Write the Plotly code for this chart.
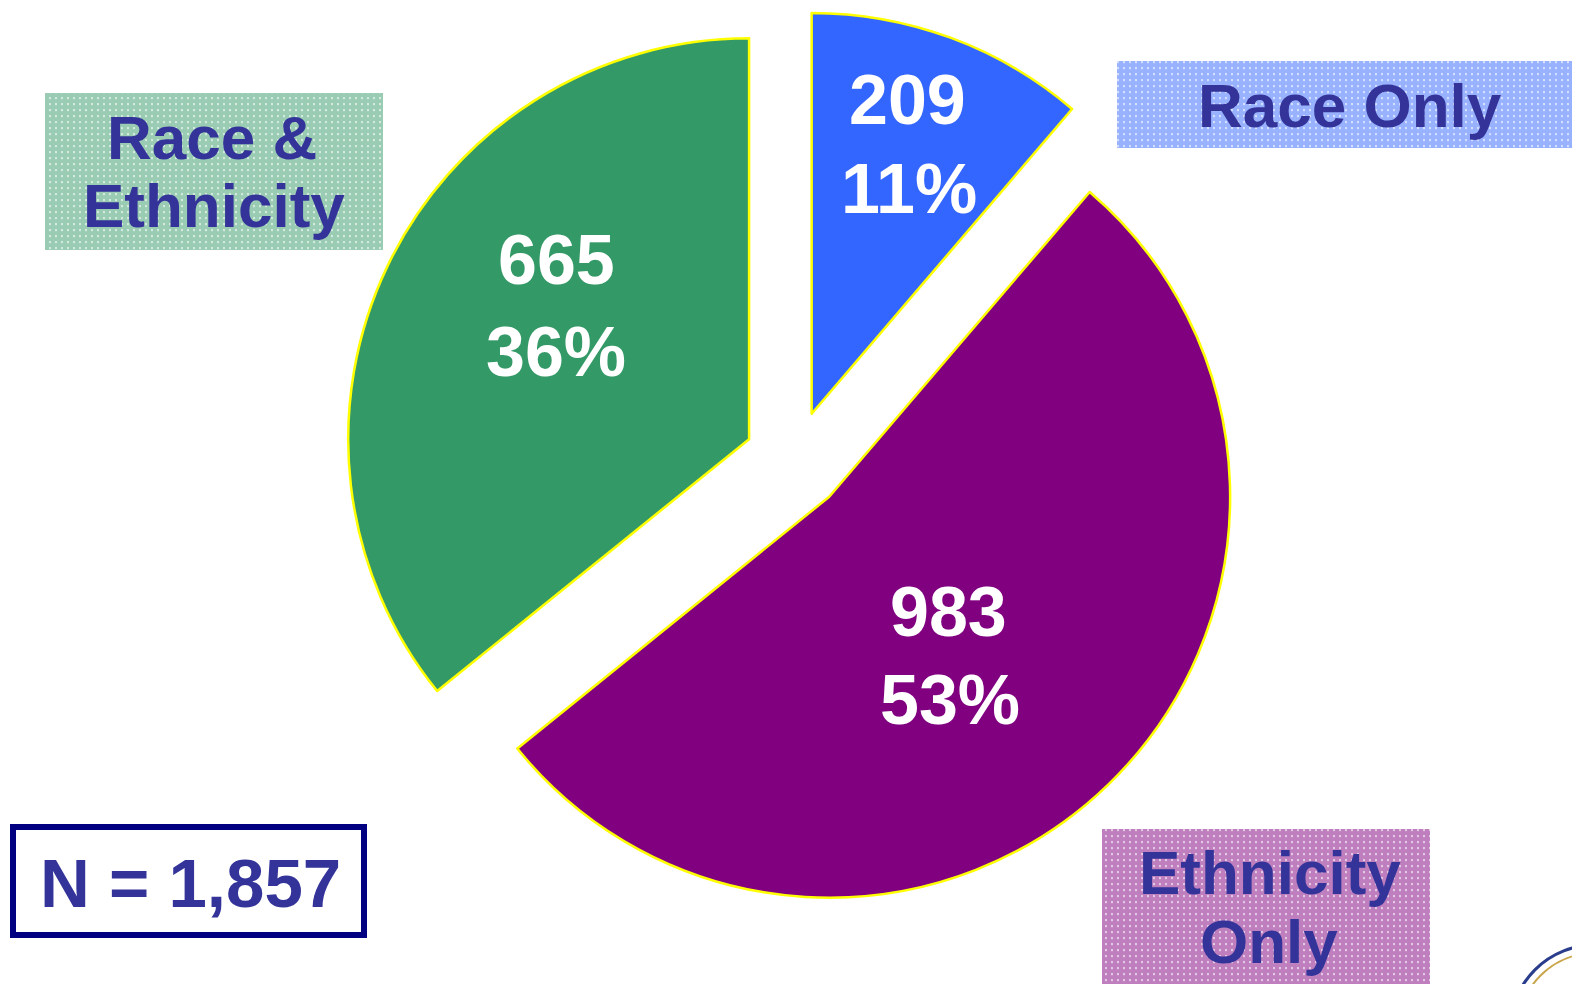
import plotly.graph_objects as go

# ---- data ----
categories = ["Race Only", "Ethnicity Only", "Race & Ethnicity"]
counts = [209, 983, 665]
slice_colors = ["#3366FF", "#800080", "#339966"]
total_label = "N = 1,857"

total = sum(counts)
percents = [round(c / total * 100) for c in counts]

# page is 1580x984; html body has an 8px margin, so the figure covers 8..1580 / 8..984
OFF = 8
W, H = 1580 - OFF, 984 - OFF
TEXT_BLUE = "#333399"
FONT = "Arial, Liberation Sans, sans-serif"


def fx(px):
    return (px - OFF) / W


def fy(py):
    return 1 - (py - OFF) / H


fig = go.Figure()

# pie (exploded): unexploded centre ~(794, 461), radius ~401, pull 0.125
PCX, PCY, HALF = 794.3, 460.8, 451.0
fig.add_trace(go.Pie(
    labels=categories,
    values=counts,
    sort=False,
    direction="clockwise",
    rotation=0,
    pull=[0.125, 0.125, 0.125],
    marker=dict(colors=slice_colors, line=dict(color="#FFFF00", width=2.5)),
    textinfo="none",
    hoverinfo="label+value+percent",
    showlegend=False,
    domain=dict(x=[fx(PCX - HALF), fx(PCX + HALF)], y=[fy(PCY + HALF), fy(PCY - HALF)]),
))

# patterned label boxes (window pixel coordinates on hidden axes)
boxes = [
    # (x0, x1, y0, y1, color)
    (45, 383, 93, 250, "#339966"),
    (1117, 1580, 61, 148, "#3366FF"),
    (1102, 1430, 829, 984, "#800080"),
]
for x0, x1, y0, y1, col in boxes:
    fig.add_trace(go.Scatter(
        x=[x0, x1, x1, x0, x0], y=[y0, y0, y1, y1, y0],
        mode="lines", fill="toself", line=dict(width=0),
        fillcolor="white",
        fillpattern=dict(shape=".", fgcolor=col, bgcolor="white", size=6, solidity=0.85),
        hoverinfo="skip", showlegend=False,
    ))

annotations = []


def add_text(x, y, txt, size, color):
    annotations.append(dict(
        x=x, y=y, xref="x", yref="y", text=f"<b>{txt}</b>", showarrow=False,
        xanchor="center", yanchor="middle",
        font=dict(family=FONT, size=size, color=color),
    ))


# box labels
add_text(212, 137, "Race &amp;", 62, TEXT_BLUE)
add_text(214, 205, "Ethnicity", 62, TEXT_BLUE)
add_text(1350, 105, "Race Only", 62, TEXT_BLUE)
add_text(1270, 872, "Ethnicity", 62, TEXT_BLUE)
add_text(1269, 941, "Only", 62, TEXT_BLUE)

# slice value labels
label_pos = {
    "Race Only": ((907, 100), (909, 189)),
    "Ethnicity Only": ((948, 612), (950, 700)),
    "Race & Ethnicity": ((556, 260), (556, 352)),
}
for cat, c, p in zip(categories, counts, percents):
    (xa, ya), (xb, yb) = label_pos[cat]
    add_text(xa, ya, f"{c}", 70, "white")
    add_text(xb, yb, f"{p}%", 70, "white")

# N box
add_text(190, 883, total_label, 69, TEXT_BLUE)

shapes = [
    dict(type="rect", xref="x", yref="y", x0=13, x1=364, y0=827, y1=935,
         line=dict(color="#000080", width=6), fillcolor="white", layer="below"),
    # partial seal at the corner
    dict(type="circle", xref="x", yref="y", x0=1510, x1=1680, y0=945, y1=1115,
         line=dict(color="#2a3c8c", width=3), fillcolor="white"),
    dict(type="circle", xref="x", yref="y", x0=1518, x1=1672, y0=953, y1=1107,
         line=dict(color="#c9a54a", width=2), fillcolor="rgba(0,0,0,0)"),
]

fig.update_layout(
    width=W, height=H,
    margin=dict(l=0, r=0, t=0, b=0),
    paper_bgcolor="white", plot_bgcolor="white",
    xaxis=dict(range=[OFF, 1580], visible=False, fixedrange=True, domain=[0, 1]),
    yaxis=dict(range=[984, OFF], visible=False, fixedrange=True, domain=[0, 1]),
    annotations=annotations,
    shapes=shapes,
)

fig.write_html("out.html")
